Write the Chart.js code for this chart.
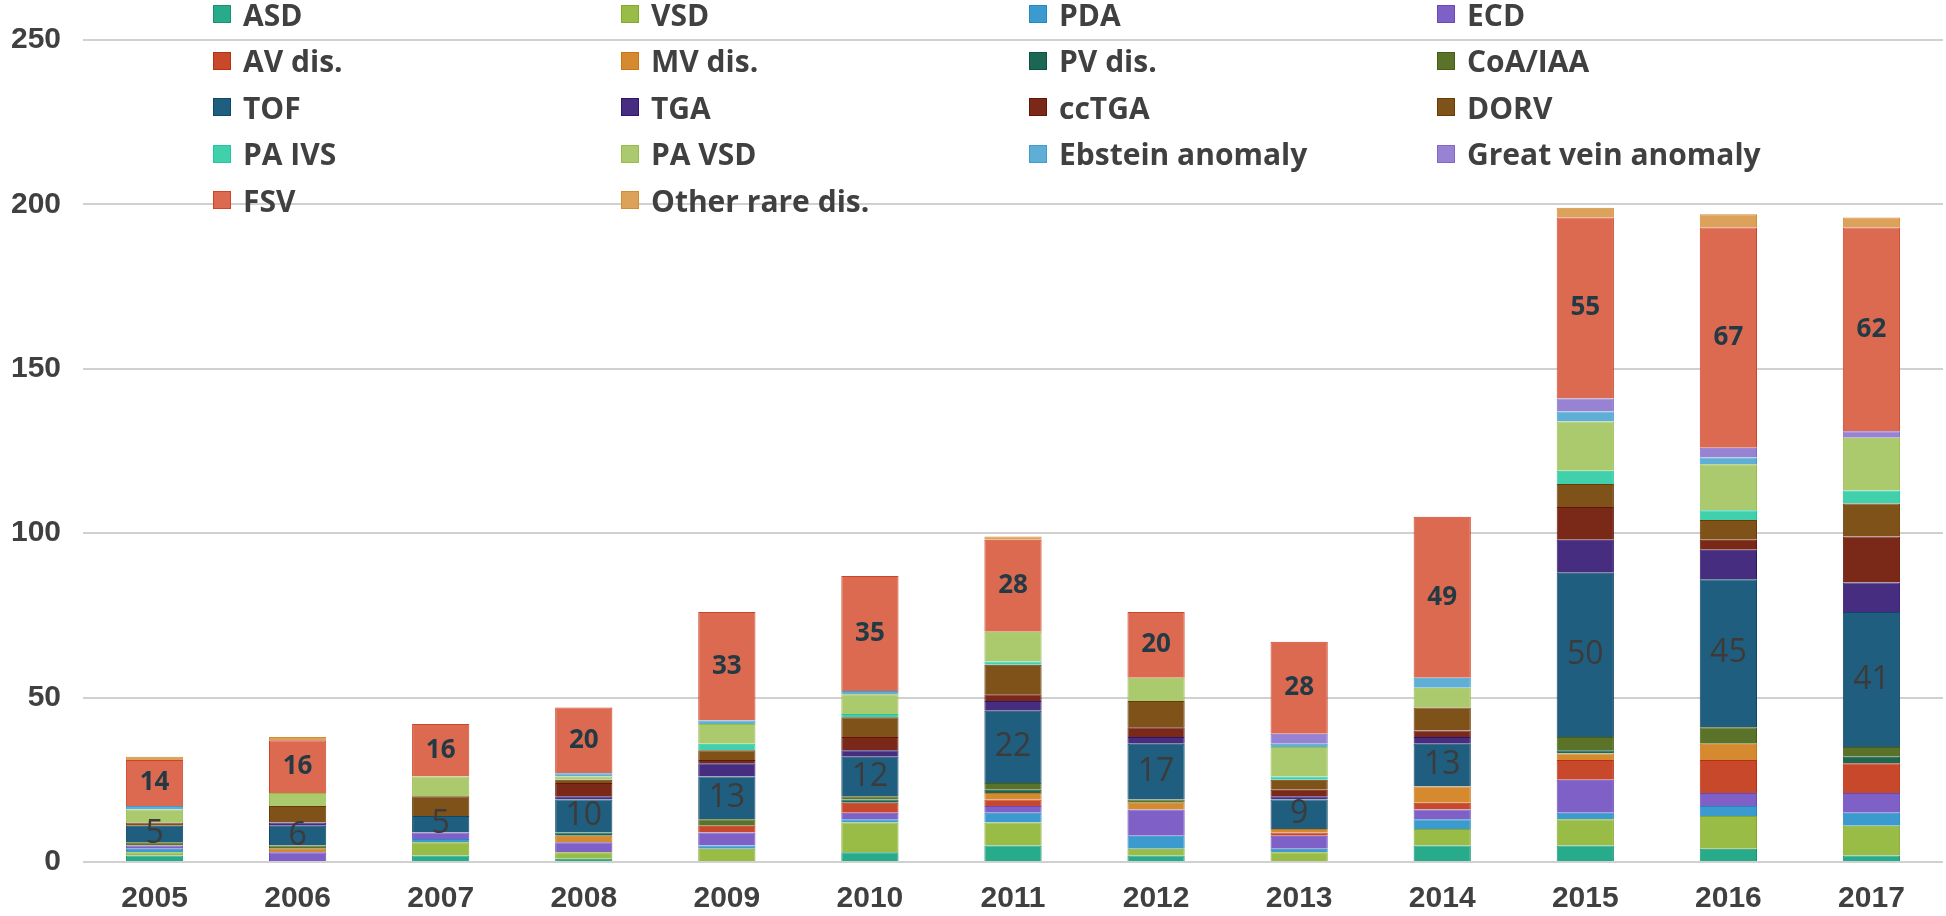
<!DOCTYPE html>
<html>
<head>
<meta charset="utf-8">
<script src="https://cdn.jsdelivr.net/npm/chart.js@4.4.1/dist/chart.umd.min.js"></script>
<style>
  body { margin: 0; background: #fff; }
  #wrap { position: relative; width: 1946px; height: 916px; }
  #legend { position: absolute; left: 0; top: 0; width: 1946px; height: 240px; pointer-events: none; }
  .item { position: absolute; height: 36px; display: flex; align-items: center; font: 700 30px "Open Sans", sans-serif; color: #404040; white-space: nowrap; }
  .sw { width: 18px; height: 18px; margin-right: 12px; box-sizing: border-box; border: 1px solid; }
</style>
</head>
<body>
<div id="wrap">
  <canvas id="chart" width="1946" height="916"></canvas>
  <div id="legend"></div>
</div>
<script>
// Years on the x axis
const years = ['2005', '2006', '2007', '2008', '2009', '2010', '2011', '2012', '2013', '2014', '2015', '2016', '2017'];

// Number of cases per diagnosis, one value per year
const asd       = [2, 0, 2, 1, 0, 3, 5, 2, 0, 5, 5, 4, 2];
const vsd       = [1, 0, 4, 2, 4, 9, 7, 2, 3, 5, 8, 10, 9];
const pda       = [1, 0, 1, 0, 1, 1, 3, 4, 1, 3, 2, 3, 4];
const ecd       = [1, 3, 2, 3, 4, 2, 2, 8, 4, 3, 10, 4, 6];
const avDis     = [0, 0, 0, 0, 2, 3, 2, 0, 1, 2, 6, 10, 9];
const mvDis     = [0, 1, 0, 2, 0, 0, 2, 2, 1, 5, 2, 5, 0];
const pvDis     = [0, 0, 0, 1, 0, 1, 1, 0, 0, 0, 1, 0, 2];
const coaIaa    = [1, 1, 0, 0, 2, 1, 2, 1, 0, 0, 4, 5, 3];
const tof       = [5, 6, 5, 10, 13, 12, 22, 17, 9, 13, 50, 45, 41];
const tga       = [0, 1, 0, 1, 4, 2, 3, 2, 1, 2, 10, 9, 9];
const ccTga     = [0, 0, 0, 4, 1, 4, 2, 3, 2, 2, 10, 3, 14];
const dorv      = [1, 5, 6, 1, 3, 6, 9, 8, 3, 7, 7, 6, 10];
const paIvs     = [0, 0, 0, 0, 2, 1, 1, 0, 1, 0, 4, 3, 4];
const paVsd     = [4, 4, 6, 1, 6, 6, 9, 7, 9, 6, 15, 14, 16];
const ebstein   = [1, 0, 0, 1, 1, 1, 0, 0, 1, 3, 3, 2, 0];
const greatVein = [0, 0, 0, 0, 0, 0, 0, 0, 3, 0, 4, 3, 2];
const fsv       = [14, 16, 16, 20, 33, 35, 28, 20, 28, 49, 55, 67, 62];
const otherRare = [1, 1, 0, 0, 0, 0, 1, 0, 0, 0, 3, 4, 3];

// y axis ticks
const yTicks = [0, 50, 100, 150, 200, 250];

const seriesNames = ['ASD', 'VSD', 'PDA', 'ECD', 'AV dis.', 'MV dis.', 'PV dis.', 'CoA/IAA', 'TOF', 'TGA', 'ccTGA', 'DORV',
                     'PA IVS', 'PA VSD', 'Ebstein anomaly', 'Great vein anomaly', 'FSV', 'Other rare dis.'];
const seriesValues = [asd, vsd, pda, ecd, avDis, mvDis, pvDis, coaIaa, tof, tga, ccTga, dorv,
                      paIvs, paVsd, ebstein, greatVein, fsv, otherRare];
const fillColors = ['#28ab8a', '#99bc46', '#3b9bcf', '#7f60c6', '#c8482b', '#d68a2f', '#1b6753', '#5b7329', '#1f5e7e',
                    '#462d80', '#7a2919', '#7f5219', '#40d1ac', '#abc96d', '#5faed6', '#9883d3', '#dc6a51', '#dda25a'];
const edgeColors = ['#16936f', '#85a82c', '#2787c0', '#6a49b8', '#b8300f', '#c87514', '#0b5240', '#485e15', '#0f4866',
                    '#2f1668', '#661405', '#6a3c05', '#22c79c', '#97bb4c', '#3f9bd0', '#8068c8', '#cf4429', '#d08d34'];

// Which segments carry a number, and how it looks
const labelStyles = [
  { series: 16, font: '700 26px "Open Sans"', color: '#233a44' },
  { series: 8, font: '400 32px "Open Sans"', color: '#3d3a3a' }
];

// Legend built by hand so it can sit in a 4 column grid over the plot
const legendBox = document.getElementById('legend');
for (let i = 0; i < seriesNames.length; i++) {
  let item = document.createElement('div');
  item.className = 'item';
  item.style.left = (213 + (i % 4) * 408) + 'px';
  item.style.top = (14 + Math.floor(i / 4) * 46.5 - 18) + 'px';
  let sw = document.createElement('span');
  sw.className = 'sw';
  sw.style.background = fillColors[i];
  sw.style.borderColor = edgeColors[i];
  item.appendChild(sw);
  item.appendChild(document.createTextNode(seriesNames[i]));
  legendBox.appendChild(item);
}

// Draws the FSV and TOF numbers in the middle of their segments
const segmentLabels = {
  id: 'segmentLabels',
  afterDatasetsDraw(chart) {
    const ctx = chart.ctx;
    ctx.save();
    ctx.textAlign = 'center';
    ctx.textBaseline = 'middle';
    labelStyles.forEach(function (st) {
      let meta = chart.getDatasetMeta(st.series);
      ctx.font = st.font;
      ctx.fillStyle = st.color;
      meta.data.forEach(function (bar, j) {
        let v = seriesValues[st.series][j];
        if (!v) return;
        ctx.fillText(String(v), bar.x, (bar.y + bar.base) / 2);
      });
    });
    ctx.restore();
  }
};

const datasets = seriesNames.map(function (name, i) {
  return {
    label: name,
    data: seriesValues[i],
    backgroundColor: fillColors[i],
    borderColor: edgeColors[i],
    borderWidth: 1,
    categoryPercentage: 1.0,
    barPercentage: 0.4
  };
});

new Chart(document.getElementById('chart'), {
  type: 'bar',
  data: { labels: years, datasets: datasets },
  options: {
    responsive: false,
    devicePixelRatio: 1,
    animation: false,
    layout: { padding: { top: 31, right: 3, left: 0, bottom: 0 } },
    plugins: {
      legend: { display: false },
      tooltip: { enabled: false }
    },
    scales: {
      x: {
        stacked: true,
        grid: { display: false, drawTicks: false },
        border: { display: false },
        ticks: { color: '#404040', font: { family: 'Liberation Sans', size: 30, weight: 'bold' }, padding: 19 },
        afterFit: function (scale) { scale.height = 54; }
      },
      y: {
        stacked: true,
        min: 0,
        max: 250,
        afterBuildTicks: function (scale) { scale.ticks = yTicks.map(function (v) { return { value: v }; }); },
        grid: { color: '#d0d0d0', lineWidth: 2, drawTicks: false },
        border: { display: false },
        ticks: { color: '#404040', font: { family: 'Liberation Sans', size: 30, weight: 'bold' }, padding: 22 },
        afterFit: function (scale) { scale.width = 83; }
      }
    }
  },
  plugins: [segmentLabels]
});
</script>
</body>
</html>
